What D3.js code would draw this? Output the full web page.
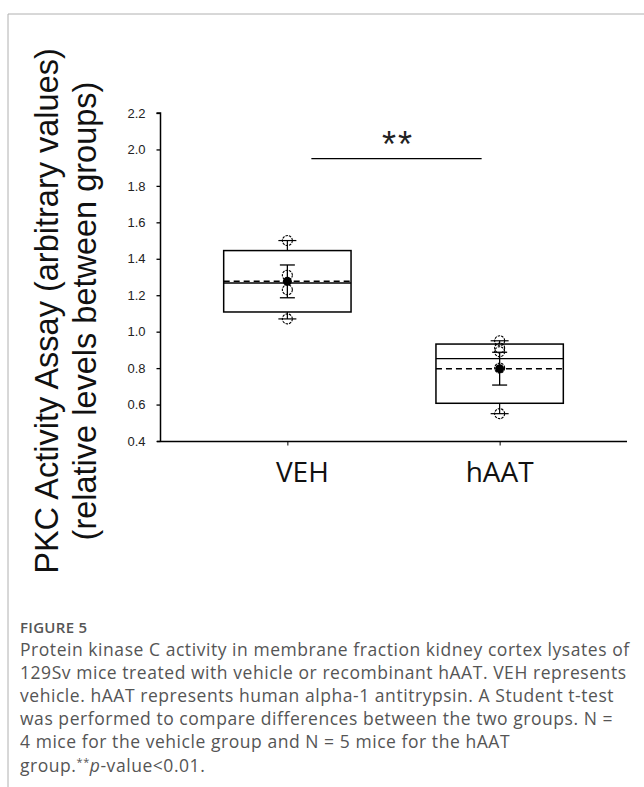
<!DOCTYPE html>
<html>
<head>
<meta charset="utf-8">
<script src="https://cdn.jsdelivr.net/npm/d3@7"></script>
<style>
  body { margin: 0; background: #fff; }
  svg { display: block; }
</style>
</head>
<body>
<svg id="chart"></svg>
<script>
// data
const groups = ["VEH", "hAAT"];
const points = [[1.50, 1.31, 1.23, 1.07], [0.95, 0.91, 0.89, 0.80, 0.55]];
const q1 = [1.108, 0.607];
const median = [1.267, 0.852];
const q3 = [1.445, 0.932];
const whiskerLow = [1.07, 0.55];
const whiskerHigh = [1.50, 0.95];
const mean = [1.276, 0.797];
const sem = [0.090, 0.090];
const yTicks = [0.4, 0.6, 0.8, 1.0, 1.2, 1.4, 1.6, 1.8, 2.0, 2.2];
const sigValue = 1.95;
const sigLabel = "**";
const yTitle = ["PKC Activity Assay (arbitrary values)", "(relative levels between groups)"];
const captionLines = [
    "Protein kinase C activity in membrane fraction kidney cortex lysates of",
    "129Sv mice treated with vehicle or recombinant hAAT. VEH represents",
    "vehicle. hAAT represents human alpha-1 antitrypsin. A Student t-test",
    "was performed to compare differences between the two groups. N =",
    "4 mice for the vehicle group and N = 5 mice for the hAAT"
];

const width = 644, height = 787;
const svg = d3.select("#chart").attr("width", width).attr("height", height);

// frame of the figure panel
svg.append("path")
    .attr("d", "M8,787 L8,14 L644,14")
    .attr("fill", "none")
    .attr("stroke", "#b0b0b0")
    .attr("stroke-width", 1);

const x = d3.scalePoint().domain(groups).range([160, 627]).padding(0.6);
const y = d3.scaleLinear().domain([0.4, 2.2]).range([441, 113]);
const boxW = x.step() * 0.6;

// y axis
const yAxis = svg.append("g")
    .attr("transform", "translate(160.5,0)")
    .call(d3.axisLeft(y).tickValues(yTicks).tickFormat(d3.format(".1f")).tickSize(4).tickPadding(11));
yAxis.select(".domain").attr("stroke-width", 1.5).attr("d", `M-4,${y(2.2)}H0V${y(0.4)}`);
yAxis.selectAll(".tick line").attr("stroke-width", 1.3);
yAxis.selectAll("text").attr("font-family", "Liberation Sans, Arial").attr("font-size", 13).attr("fill", "#222");

// x axis
const xAxis = svg.append("g")
    .attr("transform", "translate(0,441.5)")
    .call(d3.axisBottom(x).tickSize(4).tickFormat(""));
xAxis.select(".domain").attr("stroke-width", 1.5).attr("d", "M157,0H627");
xAxis.selectAll(".tick line").attr("stroke-width", 1);

svg.append("g").selectAll("text")
    .data(groups)
    .join("text")
    .attr("x", d => x(d))
    .attr("dx", (d, i) => i === 0 ? 15 : 0)
    .attr("y", 482)
    .attr("text-anchor", "middle")
    .attr("font-family", "Open Sans")
    .attr("font-size", 28)
    .attr("fill", "#111")
    .text(d => d);

// y axis title
const title = svg.append("g").attr("transform", "translate(0,311) rotate(-90)");
title.selectAll("text")
    .data(yTitle)
    .join("text")
    .attr("x", 0)
    .attr("y", (d, i) => i === 0 ? 58 : 96)
    .attr("text-anchor", "middle")
    .attr("font-family", "Liberation Sans, Arial")
    .attr("font-size", 32.5)
    .attr("fill", "#111")
    .text(d => d);

// box plots
const box = svg.append("g").selectAll("g")
    .data(groups)
    .join("g")
    .attr("transform", d => `translate(${x(d)},0)`);

box.append("line")
    .attr("y1", (d, i) => y(q3[i])).attr("y2", (d, i) => y(whiskerHigh[i]))
    .attr("stroke", "#000").attr("stroke-width", 1.2);
box.append("line")
    .attr("y1", (d, i) => y(q1[i])).attr("y2", (d, i) => y(whiskerLow[i]))
    .attr("stroke", "#000").attr("stroke-width", 1.2);
box.append("line")
    .attr("x1", -9).attr("x2", 9)
    .attr("y1", (d, i) => y(whiskerHigh[i])).attr("y2", (d, i) => y(whiskerHigh[i]))
    .attr("stroke", "#000").attr("stroke-width", 1.2);
box.append("line")
    .attr("x1", -9).attr("x2", 9)
    .attr("y1", (d, i) => y(whiskerLow[i])).attr("y2", (d, i) => y(whiskerLow[i]))
    .attr("stroke", "#000").attr("stroke-width", 1.2);

box.append("rect")
    .attr("x", -boxW / 2)
    .attr("width", boxW)
    .attr("y", (d, i) => y(q3[i]))
    .attr("height", (d, i) => y(q1[i]) - y(q3[i]))
    .attr("fill", "none")
    .attr("stroke", "#000")
    .attr("stroke-width", 1.5);

box.append("line")
    .attr("x1", -boxW / 2).attr("x2", boxW / 2)
    .attr("y1", (d, i) => y(median[i])).attr("y2", (d, i) => y(median[i]))
    .attr("stroke", "#000").attr("stroke-width", 1.3);
box.append("line")
    .attr("x1", -boxW / 2).attr("x2", boxW / 2)
    .attr("y1", (d, i) => y(mean[i])).attr("y2", (d, i) => y(mean[i]))
    .attr("stroke", "#000").attr("stroke-width", 1.5)
    .attr("stroke-dasharray", "6,4");

// raw data points
box.each(function (d, i) {
    d3.select(this).selectAll("circle.pt")
        .data(points[i])
        .join("circle")
        .attr("class", "pt")
        .attr("cy", v => y(v))
        .attr("r", 5)
        .attr("fill", "none")
        .attr("stroke", "#000")
        .attr("stroke-width", 1.1)
        .attr("stroke-dasharray", "2.5,1");
});

// mean +/- sem
box.append("line")
    .attr("y1", (d, i) => y(mean[i] + sem[i])).attr("y2", (d, i) => y(mean[i] - sem[i]))
    .attr("stroke", "#000").attr("stroke-width", 1.3);
box.append("line")
    .attr("x1", -7.5).attr("x2", 7.5)
    .attr("y1", (d, i) => y(mean[i] + sem[i])).attr("y2", (d, i) => y(mean[i] + sem[i]))
    .attr("stroke", "#000").attr("stroke-width", 1.3);
box.append("line")
    .attr("x1", -7.5).attr("x2", 7.5)
    .attr("y1", (d, i) => y(mean[i] - sem[i])).attr("y2", (d, i) => y(mean[i] - sem[i]))
    .attr("stroke", "#000").attr("stroke-width", 1.3);
box.append("circle")
    .attr("cy", (d, i) => y(mean[i]))
    .attr("r", 4.5)
    .attr("fill", "#000");

// significance bar
svg.append("line")
    .attr("x1", x(groups[0]) + 24).attr("x2", x(groups[1]) - 18)
    .attr("y1", y(sigValue)).attr("y2", y(sigValue))
    .attr("stroke", "#000").attr("stroke-width", 1.3);
svg.append("text")
    .attr("x", 398)
    .attr("y", y(sigValue) - 2)
    .attr("text-anchor", "middle")
    .attr("font-family", "Liberation Sans, Arial")
    .attr("font-size", 36)
    .attr("letter-spacing", 2)
    .attr("fill", "#222")
    .text(sigLabel);

// caption
const cap = svg.append("g").attr("font-family", "Open Sans").attr("fill", "#555");
cap.append("text")
    .attr("x", 20).attr("y", 633)
    .attr("font-size", 15)
    .attr("font-weight", 600)
    .attr("letter-spacing", 0.3)
    .text("FIGURE 5");
cap.selectAll("text.line")
    .data(captionLines)
    .join("text")
    .attr("class", "line")
    .attr("x", 20)
    .attr("y", (d, i) => 656 + i * 23.1)
    .attr("font-size", 17.5)
    .attr("letter-spacing", 0.55)
    .text(d => d);
const last = cap.append("text")
    .attr("x", 20).attr("y", 656 + 5 * 23.1)
    .attr("font-size", 17.5)
    .attr("letter-spacing", 0.55);
last.append("tspan").text("group.");
last.append("tspan").attr("font-size", 11).attr("dy", -6).text("**");
last.append("tspan").attr("font-style", "italic").attr("dy", 6).text("p");
last.append("tspan").text("-value<0.01.");
</script>
</body>
</html>
